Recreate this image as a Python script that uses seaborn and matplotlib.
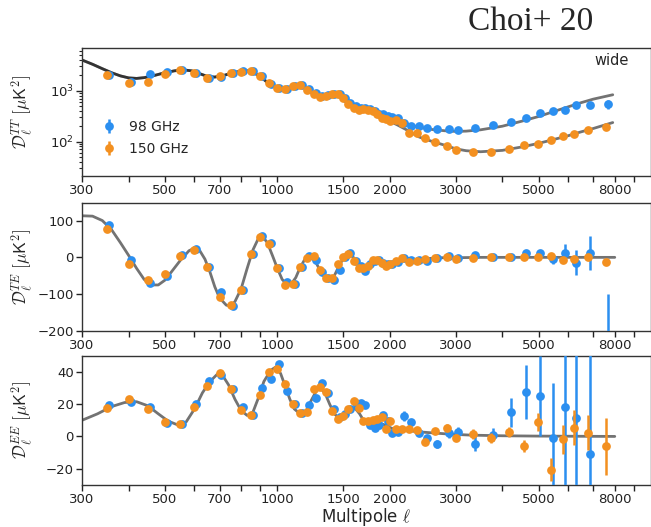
import numpy as np
import matplotlib
matplotlib.use("Agg")
import matplotlib.pyplot as plt
import matplotlib.ticker as mticker
import seaborn as sns
import pandas as pd

# ---------------- binned band powers ----------------
ell = [350, 400, 450, 500, 550, 600, 650, 700, 750, 800, 850, 900, 950, 1000,
       1050, 1100, 1150, 1200, 1250, 1300, 1350, 1400, 1450, 1500, 1550, 1600,
       1650, 1700, 1750, 1800, 1850, 1900, 1950, 2000, 2075, 2150, 2250, 2363,
       2488, 2638, 2850, 3013, 3338, 3738, 4163, 4575, 4975, 5400, 5800, 6225,
       6775, 7563]

tt_98 = [2050, 1500, 2100, 2300, 2600, 2200, 1800, 1850, 2250, 2400, 2400, 1900,
         1350, 1150, 1100, 1250, 1290, 1070, 880, 770, 820, 860, 870, 720, 570,
         500, 450, 450, 440, 400, 350, 340, 320, 300, 288, 236, 204, 204, 183,
         178, 178, 170, 183, 212, 240, 288, 360, 400, 420, 525, 525, 550]
tt_150 = [2030, 1440, 1500, 2100, 2500, 2200, 1770, 1930, 2220, 2370, 2400, 1900,
          1400, 1150, 1100, 1230, 1270, 1050, 860, 740, 800, 850, 870, 720, 540,
          460, 420, 430, 420, 390, 340, 290, 275, 255, 265, 236, 146, 146, 115,
          100, 80, 67, 62, 63, 72, 85, 90, 105, 126, 140, 165, 197]
tt_98_err = [60, 40, 50, 50, 50, 40, 35, 35, 40, 40, 40, 30, 25, 20, 20, 20, 20,
             18, 15, 12, 12, 12, 12, 10, 8, 7, 6, 6, 6, 5, 5, 5, 5, 4, 4, 4, 3,
             3, 3, 3, 3, 3, 3, 4, 5, 6, 8, 10, 12, 18, 25, 110]
tt_150_err = [60, 40, 40, 50, 50, 40, 35, 35, 40, 40, 40, 30, 25, 20, 20, 20, 20,
              18, 15, 12, 12, 12, 12, 10, 8, 7, 6, 6, 6, 5, 5, 4, 4, 4, 4, 3, 3,
              2, 2, 2, 2, 1.5, 1.5, 1.5, 2, 2, 2, 3, 3, 4, 5, 8]

te_98 = [87, -7, -71, -50, 6, 24, -26, -94, -132, -89, 8, 59, 40, -30, -66, -72,
         -26, 4, -8, -40, -57, -62, -33, 2, 13, -10, -24, -37, -17, -11, -7, -14,
         -17, -17, -13, -3, -8, -8, -10, -1, 4, -1, 6, 2, 0, 12, 13, -5, 12, -14,
         12, -480]
te_150 = [76, -19, -62, -45, 4, 20, -26, -109, -130, -89, 8, 55, 35, -30, -75, -72,
          -26, -3, 3, -35, -57, -57, -19, 2, 8, -10, -28, -30, -24, -7, -7, -14,
          -24, -17, -9, -3, -12, -9, -4, -3, 0, -4, -1, 0, 0, 0, 0, 4, -7, -5, 1,
          -13]
te_98_err = [4, 4, 4, 4, 4, 4, 4, 4, 4, 4, 4, 4, 4, 4, 4, 4, 3, 3, 3, 3, 3, 3, 3,
             3, 3, 3, 3, 3, 3, 3, 3, 3, 3, 3, 3, 3, 3, 3, 3, 3, 3, 3, 4, 4, 5, 6,
             7, 12, 23, 34, 47, 380]
te_150_err = [4, 4, 4, 4, 4, 4, 4, 4, 4, 4, 4, 4, 4, 4, 4, 4, 3, 3, 3, 3, 3, 3, 3,
              3, 3, 3, 3, 3, 3, 3, 3, 3, 3, 3, 3, 3, 3, 3, 3, 3, 3, 3, 3, 3, 3, 3,
              3, 4, 5, 5, 6, 7]

ee_98 = [19.3, 21.5, 18, 8.5, 7.5, 20, 34.4, 38, 29.5, 18, 13.2, 29.7, 35.8, 44.7,
         28, 20, 14.6, 19.2, 24, 33.3, 27, 17.2, 12, 14, 17.2, 21, 21, 19.3, 6.8,
         5.5, 7, 13, 9.5, 2.3, 2.9, 12.6, 8.7, 2.3, -1, -4.5, 2.3, 2.7, -4.5, 1,
         15.1, 27.5, 25, -0.8, 18.4, 11.2, -10.6, np.nan]
ee_150 = [17.8, 23, 16.8, 8.9, 7.9, 18.4, 31.3, 39, 29.2, 16.3, 13.2, 25.5, 40, 42,
          32.7, 19.9, 14.3, 15.1, 29.2, 30.6, 27.5, 16, 11, 12.6, 17, 22, 17.8,
          9.5, 9.5, 10, 11, 12, 4.8, 9.5, 4.8, 4.4, 4.4, 4, -3.5, 3.4, 5.4, -0.8,
          1.7, -1, 2.7, -6, 8.9, -20.5, -1.9, 5.4, 2.3, -6]
ee_98_err = [1.5, 1.5, 1.5, 1.5, 1.5, 1.5, 1.5, 1.5, 1.5, 1.5, 1.5, 1.5, 1.5, 1.5,
             1.5, 1.5, 1.5, 1.5, 1.5, 1.5, 1.5, 1.5, 1.5, 1.5, 1.5, 1.5, 1.5, 1.5,
             1.5, 1.5, 1.5, 1.5, 1.5, 1.5, 2, 3, 2, 2, 2, 2.5, 3, 3, 4.6, 4, 9,
             17, 25, 34, 70, 60, 65, np.nan]
ee_150_err = [1.2, 1.2, 1.2, 1.2, 1.2, 1.2, 1.2, 1.2, 1.2, 1.2, 1.2, 1.2, 1.2, 1.2,
              1.2, 1.2, 1.2, 1.2, 1.2, 1.2, 1.2, 1.2, 1.2, 1.2, 1.2, 1.2, 1.2, 1.2,
              1.2, 1.2, 1.2, 1.2, 1.2, 1.2, 1.5, 1.5, 1.5, 1.5, 2, 2, 2, 2, 3, 3,
              3, 3.5, 5.5, 7, 9, 11, 11, 17.6]

# ---------------- best-fit model curves ----------------
tt_th_ell = [300, 320, 340, 360, 380, 400, 420, 440, 470, 500, 530, 560, 590, 620,
             650, 680, 720, 760, 800, 830, 860, 900, 940, 980, 1020, 1060, 1100,
             1140, 1180, 1220, 1260, 1300, 1350, 1400, 1440, 1480, 1520, 1560,
             1600, 1650, 1700, 1750, 1800]
tt_th_low = [4000, 3300, 2700, 2250, 1950, 1780, 1740, 1800, 2000, 2250, 2450,
             2560, 2450, 2150, 1900, 1850, 2000, 2250, 2420, 2450, 2300, 1900,
             1450, 1200, 1100, 1120, 1220, 1260, 1170, 980, 840, 780, 790, 830,
             820, 740, 620, 530, 475, 450, 440, 420, 385]
tt_th_hi_ell = [1800, 1900, 2000, 2100, 2200, 2300, 2400, 2600, 2800, 3000, 3200,
                3500, 4000, 4500, 5000, 5500, 6000, 6500, 7000, 7900]
tt_th_98 = [385, 320, 290, 260, 230, 205, 190, 172, 163, 158, 160, 170, 200, 250,
            310, 390, 480, 580, 680, 830]
tt_th_150 = [385, 285, 250, 210, 175, 145, 122, 100, 85, 72, 66, 63, 67, 78, 92,
             110, 130, 155, 180, 236]

te_th_ell = [300, 320, 340, 360, 380, 400, 420, 440, 460, 480, 500, 520, 550, 580,
             600, 620, 640, 660, 680, 700, 730, 750, 770, 800, 830, 860, 890, 910,
             940, 970, 1000, 1030, 1060, 1090, 1120, 1150, 1180, 1210, 1240, 1270,
             1300, 1340, 1380, 1420, 1460, 1500, 1540, 1580, 1620, 1660, 1700,
             1740, 1780, 1820, 1860, 1900, 1950, 2000, 2080, 2160, 2250, 2400,
             2550, 2750, 3000, 3500, 8000]
te_th = [113, 112, 100, 75, 40, 5, -30, -60, -75, -75, -62, -40, -8, 18, 25, 18,
         -5, -40, -80, -110, -130, -132, -120, -85, -30, 20, 52, 58, 40, 5, -30,
         -60, -73, -72, -55, -28, -8, 1, -2, -15, -35, -55, -62, -50, -25, -3, 8,
         6, -8, -22, -28, -25, -14, -6, -4, -8, -14, -15, -10, -4, -3, -7, -3,
         -1, -1, 0, 0]

ee_th_ell = [300, 330, 360, 390, 420, 450, 480, 510, 540, 570, 600, 630, 660, 690,
             710, 740, 770, 800, 830, 860, 890, 920, 960, 990, 1020, 1050, 1080,
             1110, 1150, 1190, 1230, 1270, 1300, 1340, 1380, 1420, 1460, 1500,
             1540, 1580, 1620, 1660, 1700, 1750, 1800, 1860, 1920, 1980, 2050,
             2150, 2250, 2400, 2600, 2900, 3300, 4000, 5000, 8000]
ee_th = [10, 14, 18.5, 21, 21.5, 19, 14, 9.5, 7.2, 9, 17, 27, 34, 38.5, 38.5, 32,
         23, 16, 13, 15, 24, 34, 41, 43, 39, 31, 23, 17, 14, 15, 22, 28, 30, 27,
         20, 14, 11.5, 13, 16, 18, 17, 14, 10, 8, 7.5, 8, 7.5, 6, 4.5, 3.8, 3.5,
         2.8, 2.2, 1.4, 0.8, 0.4, 0.2, 0]

labels = ["98 GHz", "150 GHz"]
x_major = [300, 500, 700, 1000, 1500, 2000, 3000, 5000, 8000]
x_minor = [400, 600, 800, 900, 4000, 6000, 7000, 9000]

# ---------------- style ----------------
sns.set_theme(style="ticks")
plt.rcParams["font.family"] = ["DejaVu Sans"]
plt.rcParams["mathtext.fontset"] = "cm"
plt.rcParams["axes.edgecolor"] = "#333333"
plt.rcParams["axes.linewidth"] = 1.0

C98 = "#2b8ff0"
C150 = "#f39020"
LINE = "#000000"

fig = plt.figure(figsize=(6.51, 5.27), dpi=100)
left, width = 0.126, 0.874
ax_tt = fig.add_axes([left, 0.666, width, 0.243])
ax_te = fig.add_axes([left, 0.372, width, 0.243])
ax_ee = fig.add_axes([left, 0.080, width, 0.245])

ell_arr = np.array(ell, dtype=float)
shift = 1.012  # small horizontal nudge so the two channels don't hide each other


def draw_points(ax, y98, e98, y150, e150):
    h1 = ax.errorbar(ell_arr * shift, y98, yerr=e98, fmt="o", color=C98, ms=6.3,
                     elinewidth=1.8, capsize=0, mew=0, zorder=3, label=labels[0])
    h2 = ax.errorbar(ell_arr, y150, yerr=e150, fmt="o", color=C150, ms=6.3,
                     elinewidth=1.8, capsize=0, mew=0, zorder=4, label=labels[1])
    return h1, h2


def model_line(ax, x, y):
    df = pd.DataFrame({"ell": x, "D": y})
    sns.lineplot(data=df, x="ell", y="D", ax=ax, color=LINE, alpha=0.55, lw=2.0,
                 zorder=2, estimator=None, sort=False)


# TT
for hi_ell, hi in [(tt_th_hi_ell, tt_th_98), (tt_th_hi_ell, tt_th_150)]:
    model_line(ax_tt, tt_th_ell + hi_ell[1:], tt_th_low + hi[1:])
h98, h150 = draw_points(ax_tt, tt_98, tt_98_err, tt_150, tt_150_err)
ax_tt.set_yscale("log")
ax_tt.set_ylim(21, 6900)
ax_tt.legend(handles=[h98, h150], labels=labels, loc="lower left",
             bbox_to_anchor=(0.01, 0.06), frameon=False, fontsize=10,
             handletextpad=0.9, labelspacing=0.55, handlelength=1.2)
ax_tt.text(0.93, 0.9, "wide", transform=ax_tt.transAxes, ha="center",
           va="center", fontsize=10.5)

# TE
model_line(ax_te, te_th_ell, te_th)
draw_points(ax_te, te_98, te_98_err, te_150, te_150_err)
ax_te.set_ylim(-200, 148)
ax_te.set_yticks([-200, -100, 0, 100])

# EE
model_line(ax_ee, ee_th_ell, ee_th)
draw_points(ax_ee, ee_98, ee_98_err, ee_150, ee_150_err)
ax_ee.set_ylim(-30, 50)
ax_ee.set_yticks([-20, 0, 20, 40])

ylabels = [r"$\mathcal{D}_\ell^{TT}\ [\mu\mathsf{K}^2]$",
           r"$\mathcal{D}_\ell^{TE}\ [\mu\mathsf{K}^2]$",
           r"$\mathcal{D}_\ell^{EE}\ [\mu\mathsf{K}^2]$"]

for ax, yl in zip([ax_tt, ax_te, ax_ee], ylabels):
    ax.set_xscale("log")
    ax.set_xlim(300, 10000)
    ticks = sorted(x_major + x_minor)
    ax.xaxis.set_major_locator(mticker.FixedLocator(ticks))
    ax.xaxis.set_minor_locator(mticker.NullLocator())
    ax.set_xticklabels([str(t) if t in x_major else "" for t in ticks])
    ax.tick_params(axis="both", direction="out", length=4, width=1.0,
                   labelsize=9.5, pad=2, colors="#222222")
    ax.tick_params(axis="y", which="minor", length=2.5, width=0.8)
    ax.set_xlabel("")
    ax.set_ylabel(yl, fontsize=12.5)
    ax.yaxis.set_label_coords(-0.083, 0.5)

fig.text(0.562, 0.019, r"Multipole $\ell$", fontsize=12, ha="center",
         va="center")

fig.text(0.815, 0.958, "Choi+ 20", family="Liberation Serif", fontsize=24,
         ha="center", va="center")

fig.savefig("out.png", dpi=100)
